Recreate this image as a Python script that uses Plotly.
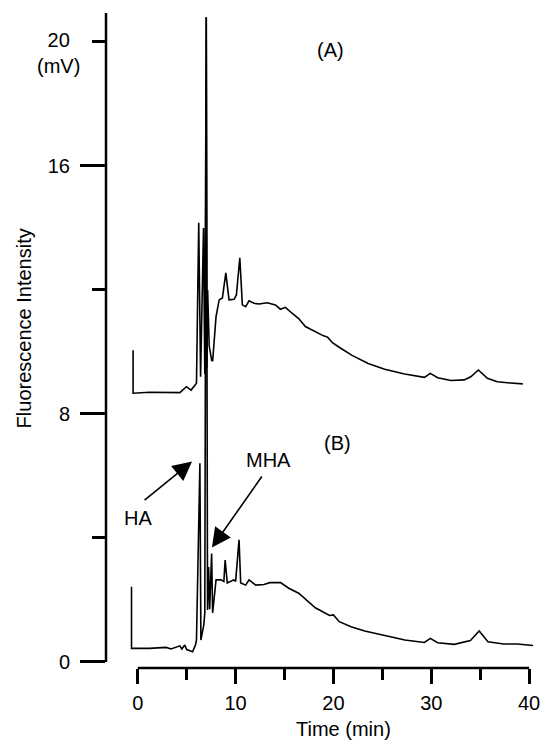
import plotly.graph_objects as go

# ---- data (time in min, fluorescence intensity in mV) ----
time_a = [-0.48, -0.48, 1.2, 2.9, 4.3, 4.97, 5.45, 6.0, 6.23, 6.42, 6.72, 6.85, 7.0, 7.07, 7.14,
          7.3, 7.55, 7.65, 8.0, 8.32, 8.65, 9.0, 9.33, 9.85, 10.08, 10.43, 10.69, 11.03, 11.37,
          11.88, 12.39, 13.23, 14.07, 14.58, 15.09, 15.77, 16.45, 17.13, 18.48, 18.99, 19.4,
          19.9, 20.51, 21.86, 23.55, 25.24, 27.28, 29.3, 29.9, 30.66, 32.0, 33.37, 34.04, 34.82,
          35.74, 36.75, 38.1, 39.36]
signal_a = [10.06, 8.67, 8.70, 8.69, 8.69, 8.88, 8.77, 8.99, 14.17, 9.2, 14.0, 9.3, 20.8, 9.5, 12.0,
            10.2, 9.74, 9.7, 11.14, 11.68, 11.74, 12.55, 11.68, 11.7, 11.84, 13.04, 11.52, 11.46, 11.65,
            11.57, 11.55, 11.59, 11.52, 11.38, 11.44, 11.25, 11.08, 10.82, 10.6, 10.52, 10.48,
            10.3, 10.17, 9.9, 9.63, 9.44, 9.29, 9.18, 9.31, 9.17, 9.08, 9.1, 9.2, 9.42,
            9.15, 9.04, 9.0, 8.97]

time_b = [-0.64, -0.64, 1.2, 2.9, 3.4, 4.3, 4.5, 4.8, 5.0, 5.6, 5.9, 6.0, 6.35, 6.45, 6.75, 6.85,
          7.0, 7.13, 7.24, 7.35, 7.55, 7.65, 8.0, 8.5, 8.8, 8.93, 9.15, 9.8, 10.0, 10.35, 10.52,
          11.03, 11.37, 12.06, 12.9, 13.5, 14.6, 15.43, 16.45, 18.15, 19.6, 20.0, 20.6, 21.8,
          23.2, 25.2, 27.3, 29.3, 29.9, 30.66, 32.35, 34.0, 34.9, 35.8, 37.4, 38.8, 40.4]
signal_b = [2.43, 0.44, 0.44, 0.47, 0.42, 0.52, 0.42, 0.55, 0.40, 0.33, 0.55, 0.71, 6.41, 0.71, 1.2, 1.58,
            20.8, 1.68, 3.06, 1.7, 3.5, 1.58, 2.65, 2.65, 2.6, 3.29, 2.55, 2.65, 2.6, 3.94, 2.55,
            2.48, 2.65, 2.48, 2.5, 2.56, 2.56, 2.38, 2.22, 1.75, 1.5, 1.52, 1.3, 1.14,
            1.0, 0.87, 0.71, 0.63, 0.76, 0.62, 0.57, 0.69, 1.0, 0.65, 0.58, 0.58, 0.53]

x_ticks = [0, 10, 20, 30, 40]
x_minor = [5, 15, 25, 35]
y_ticks = [0, 8, 16]
y_minor = [4, 12, 20]

FONT = "Liberation Sans"
FS = 20

fig = go.Figure()
for t, s in ((time_a, signal_a), (time_b, signal_b)):
    fig.add_trace(go.Scatter(x=t, y=s, mode="lines",
                             line=dict(color="black", width=1.6),
                             showlegend=False, hoverinfo="skip"))

Y_TOP = 20.935
fig.update_layout(
    width=547, height=740,
    margin=dict(l=106, r=7, t=13, b=72),
    paper_bgcolor="white", plot_bgcolor="white",
    font=dict(family=FONT, size=FS, color="black"),
    xaxis=dict(range=[-3.249, 40.81], showgrid=False, zeroline=False, showline=False,
               tickmode="array", tickvals=x_ticks, ticks="outside", ticklen=15, tickwidth=2.5,
               tickcolor="black", tickfont=dict(family=FONT, size=FS), ticklabelstandoff=2,
               minor=dict(tickmode="array", tickvals=x_minor, ticks="outside",
                          ticklen=11, tickwidth=2.5, tickcolor="black")),
    yaxis=dict(range=[-0.194, Y_TOP], showgrid=False, zeroline=False, showline=False,
               tickmode="array", tickvals=y_ticks, ticks="outside", ticklen=25, tickwidth=2.5,
               tickcolor="black", tickfont=dict(family=FONT, size=FS), ticklabelstandoff=6,
               minor=dict(tickmode="array", tickvals=y_minor, ticks="outside",
                          ticklen=13, tickwidth=2.5, tickcolor="black")),
)

# axis lines (y axis spans 0..top, x axis spans 0..40)
fig.add_shape(type="line", xref="paper", yref="y", x0=0, x1=0, y0=0, y1=Y_TOP,
              line=dict(color="black", width=2.5))
fig.add_shape(type="line", xref="x", yref="paper", x0=x_ticks[0], x1=x_ticks[-1], y0=0, y1=0,
              line=dict(color="black", width=2.5))

# text labels
fig.add_annotation(xref="paper", yref="y", x=-0.1106, y=19.63, text="20<br>(mV)",
                   showarrow=False, xanchor="center", yanchor="middle",
                   font=dict(family=FONT, size=FS))
fig.add_annotation(xref="paper", yref="paper", x=-0.191, y=0.518, text="Fluorescence Intensity",
                   textangle=-90, showarrow=False, xanchor="center", yanchor="middle",
                   font=dict(family=FONT, size=FS))
fig.add_annotation(xref="x", yref="paper", x=21.0, y=-0.093, text="Time (min)",
                   showarrow=False, xanchor="center", yanchor="middle",
                   font=dict(family=FONT, size=FS))
fig.add_annotation(x=19.66, y=19.74, text="(A)", showarrow=False, font=dict(family=FONT, size=FS))
fig.add_annotation(x=20.4, y=7.06, text="(B)", showarrow=False, font=dict(family=FONT, size=FS))
fig.add_annotation(x=0.0, y=4.63, text="HA", showarrow=False, font=dict(family=FONT, size=FS))
fig.add_annotation(x=13.4, y=6.52, text="MHA", showarrow=False, font=dict(family=FONT, size=FS))

# arrows
fig.add_annotation(x=5.55, y=6.47, ax=0.54, ay=5.18, axref="x", ayref="y", text="",
                   showarrow=True, arrowhead=2, arrowsize=2.4, arrowwidth=1.6, arrowcolor="black")
fig.add_annotation(x=7.58, y=3.69, ax=12.79, ay=6.03, axref="x", ayref="y", text="",
                   showarrow=True, arrowhead=2, arrowsize=2.4, arrowwidth=1.6, arrowcolor="black")

fig.write_html("out.html", config={"displayModeBar": False},
               post_script="document.body.style.margin='0';")
